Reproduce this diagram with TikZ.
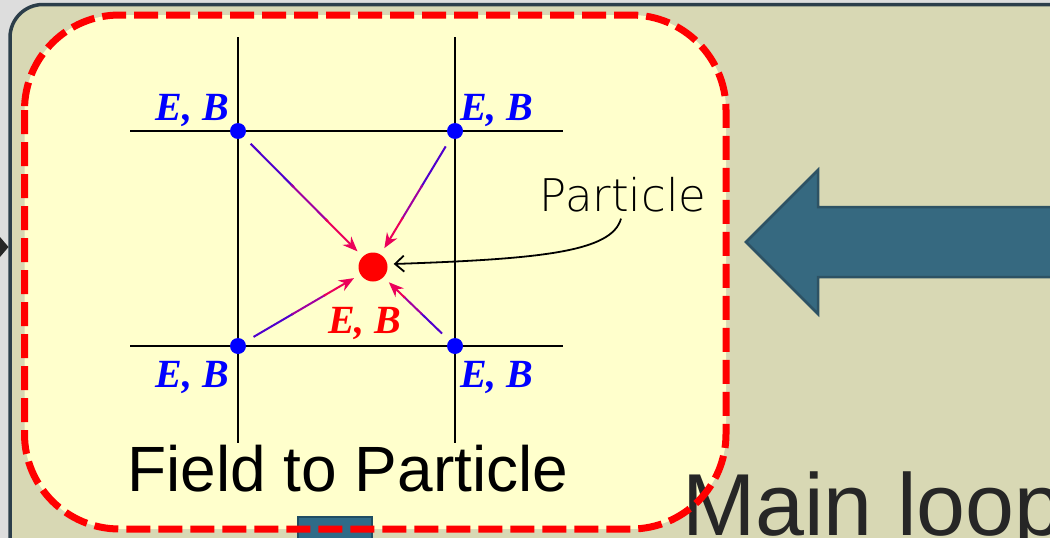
\documentclass[tikz,border=0pt]{standalone}
\usepackage{fontspec}
\setmainfont{Liberation Sans}
\newfontfamily\ebfont{Liberation Serif}
\newfontfamily\lightfont{DejaVu Sans ExtraLight}
\usepackage{xcolor}
\usetikzlibrary{arrows.meta, calc}

\definecolor{slidegray}{RGB}{221,221,221}
\definecolor{panelkhaki}{RGB}{216,216,180}
\definecolor{panelrim}{RGB}{44,62,74}
\definecolor{boxyellow}{RGB}{255,255,204}
\definecolor{fieldblue}{RGB}{0,0,255}
\definecolor{arrowteal}{RGB}{54,105,128}
\definecolor{arrowrim}{RGB}{45,82,100}
\definecolor{stepteal}{RGB}{47,107,136}
\definecolor{steprim}{RGB}{31,77,99}
\definecolor{maingray}{RGB}{38,38,38}
\definecolor{fadeA}{RGB}{80,0,205}
\definecolor{fadeB}{RGB}{160,0,160}
\definecolor{fadeC}{RGB}{235,0,90}

\begin{document}
\begin{tikzpicture}[
  x=1pt, y=1pt,
  grid/.style={line width=2.4pt, black},
  dot/.style={circle, fill=fieldblue, inner sep=0pt, minimum size=16pt},
  pdot/.style={circle, fill=red, inner sep=0pt, minimum size=29pt},
  eb/.style={inner sep=0pt, text=fieldblue, font=\ebfont\fontsize{40}{40}\selectfont\bfseries\itshape},
  fld/.style={line width=2pt},
  ptr/.style={line width=1.8pt, -{Straight Barb[length=9pt, width=16pt, line width=1.8pt]}},
  title/.style={anchor=base west, inner sep=0pt}
]
  \useasboundingbox (0,0) rectangle (1050,-538);
  \clip (0,0) rectangle (1050,-538);
  \fill[slidegray] (0,0) rectangle (1050,-538);

  % slide panel and small arrow on the left
  \draw[panelrim, fill=panelkhaki, line width=3.5pt, rounded corners=33pt] (10,-4.5) rectangle (1120,-620);
  \fill[black!85] (0,-237) -- (8.5,-247) -- (0,-257) -- cycle;

  % yellow box
  \fill[boxyellow, rounded corners=95pt] (24.5,-15) rectangle (726,-529);
  \draw[steprim, fill=stepteal, line width=2.5pt] (298,-517) rectangle (372,-560);
  \node[title, text=maingray, font=\fontsize{88}{88}\selectfont] (loop) at (682,-535) {Main loop};
  \draw[red, line width=7pt, dash pattern=on 24pt off 8pt, rounded corners=95pt] (24.5,-15) rectangle (726,-529);

  % block arrow
  \draw[arrowrim, fill=arrowteal, line width=2.5pt, line join=miter]
    (746,-242) -- (818,-170) -- (818,-207) -- (1070,-207) -- (1070,-277) -- (818,-277) -- (818,-314) -- cycle;

  % grid
  \draw[grid] (238,-37) -- (238,-443);
  \draw[grid] (455,-37) -- (455,-443);
  \draw[grid] (130,-131) -- (563,-131);
  \draw[grid] (130,-346) -- (563,-346);

  \node[dot] (tl) at (238,-131) {};
  \node[dot] (tr) at (455,-131) {};
  \node[dot] (bl) at (238,-346) {};
  \node[dot] (br) at (455,-346) {};
  \node[pdot] (p) at (373,-267) {};

  \node[eb, anchor=base east] (tlEB) at ($(tl)+(-9,11)$) {E, B};
  \node[eb, anchor=base west] (trEB) at ($(tr)+(5,11)$) {E, B};
  \node[eb, anchor=base east] (blEB) at ($(bl)+(-9,-41)$) {E, B};
  \node[eb, anchor=base west] (brEB) at ($(br)+(5,-41)$) {E, B};
  \node[eb, anchor=base west, text=red] (pEB) at ($(p)+(-45,-66)$) {E, B};

  % interpolation arrows
  \foreach \c in {tl,tr,bl,br}{
    \coordinate (s) at ($(\c)!18pt!(p)$);
    \coordinate (e) at ($(p)!22pt!(\c)$);
    \draw[fld, fadeA] (s) -- ($(s)!0.4!(e)$);
    \draw[fld, fadeB] ($(s)!0.38!(e)$) -- ($(s)!0.72!(e)$);
    \draw[fld, fadeC, -{Stealth[length=15pt, width=12pt]}] ($(s)!0.7!(e)$) -- (e);
  }

  % particle label
  \node[inner sep=3pt, font=\lightfont\fontsize{45}{45}\selectfont] (lbl) at (623,-195) {Particle};
  \draw[ptr] ($(lbl.south)+(-2,-3)$) .. controls (612,-252) and (540,-259) .. ($(p.east)+(6,3)$);

  \node[title, font=\fontsize{64}{64}\selectfont] (ftp) at (127,-491) {Field to Particle};
\end{tikzpicture}
\end{document}
